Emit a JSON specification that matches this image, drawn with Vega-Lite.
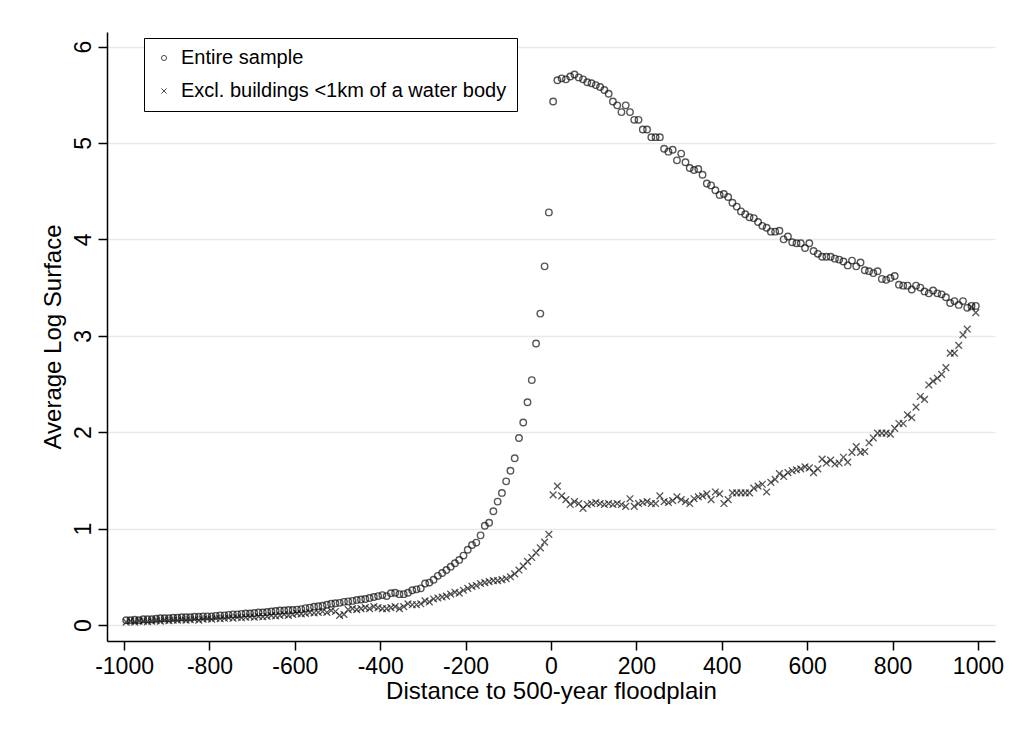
{
  "$schema": "https://vega.github.io/schema/vega-lite/v6.json",
  "width": 888,
  "height": 609,
  "autosize": "none",
  "padding": {"left": 107, "top": 32, "right": 18, "bottom": 95},
  "background": "white",
  "config": {
    "font": "Liberation Sans",
    "view": {"stroke": null},
    "axis": {
      "domainColor": "black",
      "domainWidth": 1.5,
      "tickColor": "black",
      "tickWidth": 1.5,
      "tickSize": 9,
      "labelColor": "black",
      "titleColor": "black",
      "labelFont": "Liberation Sans",
      "titleFont": "Liberation Sans",
      "labelFontSize": 23,
      "titleFontSize": 24,
      "titleFontWeight": "normal",
      "gridColor": "#e4ebee",
      "gridWidth": 1.5
    }
  },
  "datasets": {
    "a": [
      {"x":-995,"y":0.05},{"x":-985,"y":0.05},{"x":-975,"y":0.055},{"x":-965,"y":0.05},{"x":-955,"y":0.06},{"x":-945,"y":0.06},{"x":-935,"y":0.06},{"x":-925,"y":0.065},{"x":-915,"y":0.07},{"x":-905,"y":0.07},
      {"x":-895,"y":0.07},{"x":-885,"y":0.075},{"x":-875,"y":0.075},{"x":-865,"y":0.08},{"x":-855,"y":0.08},{"x":-845,"y":0.08},{"x":-835,"y":0.085},{"x":-825,"y":0.085},{"x":-815,"y":0.09},{"x":-805,"y":0.09},
      {"x":-795,"y":0.09},{"x":-785,"y":0.095},{"x":-775,"y":0.1},{"x":-765,"y":0.1},{"x":-755,"y":0.105},{"x":-745,"y":0.11},{"x":-735,"y":0.11},{"x":-725,"y":0.115},{"x":-715,"y":0.12},{"x":-705,"y":0.12},
      {"x":-695,"y":0.125},{"x":-685,"y":0.13},{"x":-675,"y":0.13},{"x":-665,"y":0.135},{"x":-655,"y":0.14},{"x":-645,"y":0.145},{"x":-635,"y":0.15},{"x":-625,"y":0.15},{"x":-615,"y":0.155},{"x":-605,"y":0.155},
      {"x":-595,"y":0.16},{"x":-585,"y":0.165},{"x":-575,"y":0.175},{"x":-565,"y":0.18},{"x":-555,"y":0.19},{"x":-545,"y":0.195},{"x":-535,"y":0.2},{"x":-525,"y":0.21},{"x":-515,"y":0.22},{"x":-505,"y":0.225},
      {"x":-495,"y":0.23},{"x":-485,"y":0.24},{"x":-475,"y":0.245},{"x":-465,"y":0.25},{"x":-455,"y":0.26},{"x":-445,"y":0.265},{"x":-435,"y":0.27},{"x":-425,"y":0.28},{"x":-415,"y":0.29},{"x":-405,"y":0.3},
      {"x":-395,"y":0.31},{"x":-385,"y":0.3},{"x":-375,"y":0.33},{"x":-365,"y":0.335},{"x":-355,"y":0.32},{"x":-345,"y":0.32},{"x":-335,"y":0.335},{"x":-325,"y":0.36},{"x":-315,"y":0.37},{"x":-305,"y":0.38},
      {"x":-295,"y":0.43},{"x":-285,"y":0.44},{"x":-275,"y":0.47},{"x":-265,"y":0.51},{"x":-255,"y":0.54},{"x":-245,"y":0.57},{"x":-235,"y":0.605},{"x":-225,"y":0.64},{"x":-215,"y":0.675},{"x":-205,"y":0.72},
      {"x":-195,"y":0.78},{"x":-185,"y":0.83},{"x":-175,"y":0.855},{"x":-165,"y":0.93},{"x":-155,"y":1.03},{"x":-145,"y":1.06},{"x":-135,"y":1.18},{"x":-125,"y":1.28},{"x":-115,"y":1.37},{"x":-105,"y":1.49},
      {"x":-95,"y":1.6},{"x":-85,"y":1.73},{"x":-75,"y":1.94},{"x":-65,"y":2.1},{"x":-55,"y":2.31},{"x":-45,"y":2.54},{"x":-35,"y":2.92},{"x":-25,"y":3.23},{"x":-15,"y":3.72},{"x":-5,"y":4.28},
      {"x":5,"y":5.43},{"x":15,"y":5.65},{"x":25,"y":5.67},{"x":35,"y":5.66},{"x":45,"y":5.69},{"x":55,"y":5.71},{"x":65,"y":5.68},{"x":75,"y":5.66},{"x":85,"y":5.63},{"x":95,"y":5.62},
      {"x":105,"y":5.6},{"x":115,"y":5.58},{"x":125,"y":5.55},{"x":135,"y":5.51},{"x":145,"y":5.43},{"x":155,"y":5.39},{"x":165,"y":5.32},{"x":175,"y":5.39},{"x":185,"y":5.32},{"x":195,"y":5.24},
      {"x":205,"y":5.24},{"x":215,"y":5.14},{"x":225,"y":5.14},{"x":235,"y":5.06},{"x":245,"y":5.06},{"x":255,"y":5.06},{"x":265,"y":4.94},{"x":275,"y":4.91},{"x":285,"y":4.93},{"x":295,"y":4.82},
      {"x":305,"y":4.89},{"x":315,"y":4.8},{"x":325,"y":4.74},{"x":335,"y":4.72},{"x":345,"y":4.73},{"x":355,"y":4.67},{"x":365,"y":4.58},{"x":375,"y":4.56},{"x":385,"y":4.51},{"x":395,"y":4.46},
      {"x":405,"y":4.47},{"x":415,"y":4.44},{"x":425,"y":4.38},{"x":435,"y":4.34},{"x":445,"y":4.29},{"x":455,"y":4.26},{"x":465,"y":4.23},{"x":475,"y":4.22},{"x":485,"y":4.18},{"x":495,"y":4.14},
      {"x":505,"y":4.12},{"x":515,"y":4.08},{"x":525,"y":4.08},{"x":535,"y":4.09},{"x":545,"y":4.0},{"x":555,"y":4.03},{"x":565,"y":3.97},{"x":575,"y":3.96},{"x":585,"y":3.96},{"x":595,"y":3.91},
      {"x":605,"y":3.96},{"x":615,"y":3.88},{"x":625,"y":3.85},{"x":635,"y":3.82},{"x":645,"y":3.82},{"x":655,"y":3.82},{"x":665,"y":3.8},{"x":675,"y":3.79},{"x":685,"y":3.77},{"x":695,"y":3.73},
      {"x":705,"y":3.78},{"x":715,"y":3.72},{"x":725,"y":3.76},{"x":735,"y":3.68},{"x":745,"y":3.67},{"x":755,"y":3.65},{"x":765,"y":3.67},{"x":775,"y":3.59},{"x":785,"y":3.58},{"x":795,"y":3.6},
      {"x":805,"y":3.62},{"x":815,"y":3.53},{"x":825,"y":3.52},{"x":835,"y":3.52},{"x":845,"y":3.48},{"x":855,"y":3.52},{"x":865,"y":3.5},{"x":875,"y":3.46},{"x":885,"y":3.44},{"x":895,"y":3.47},
      {"x":905,"y":3.44},{"x":915,"y":3.43},{"x":925,"y":3.4},{"x":935,"y":3.34},{"x":945,"y":3.36},{"x":955,"y":3.32},{"x":965,"y":3.36},{"x":975,"y":3.29},{"x":985,"y":3.31},{"x":995,"y":3.31}
    ],
    "b": [
      {"x":-995,"y":0.03},{"x":-985,"y":0.04},{"x":-975,"y":0.03},{"x":-965,"y":0.04},{"x":-955,"y":0.04},{"x":-945,"y":0.035},{"x":-935,"y":0.04},{"x":-925,"y":0.045},{"x":-915,"y":0.04},{"x":-905,"y":0.05},
      {"x":-895,"y":0.045},{"x":-885,"y":0.05},{"x":-875,"y":0.05},{"x":-865,"y":0.055},{"x":-855,"y":0.05},{"x":-845,"y":0.055},{"x":-835,"y":0.06},{"x":-825,"y":0.05},{"x":-815,"y":0.06},{"x":-805,"y":0.065},
      {"x":-795,"y":0.06},{"x":-785,"y":0.07},{"x":-775,"y":0.065},{"x":-765,"y":0.07},{"x":-755,"y":0.075},{"x":-745,"y":0.07},{"x":-735,"y":0.08},{"x":-725,"y":0.075},{"x":-715,"y":0.08},{"x":-705,"y":0.085},
      {"x":-695,"y":0.08},{"x":-685,"y":0.09},{"x":-675,"y":0.085},{"x":-665,"y":0.09},{"x":-655,"y":0.1},{"x":-645,"y":0.095},{"x":-635,"y":0.1},{"x":-625,"y":0.11},{"x":-615,"y":0.1},{"x":-605,"y":0.11},
      {"x":-595,"y":0.12},{"x":-585,"y":0.115},{"x":-575,"y":0.12},{"x":-565,"y":0.13},{"x":-555,"y":0.125},{"x":-545,"y":0.13},{"x":-535,"y":0.14},{"x":-525,"y":0.13},{"x":-515,"y":0.15},{"x":-505,"y":0.14},
      {"x":-495,"y":0.1},{"x":-485,"y":0.11},{"x":-475,"y":0.16},{"x":-465,"y":0.17},{"x":-455,"y":0.16},{"x":-445,"y":0.17},{"x":-435,"y":0.18},{"x":-425,"y":0.17},{"x":-415,"y":0.19},{"x":-405,"y":0.18},
      {"x":-395,"y":0.17},{"x":-385,"y":0.17},{"x":-375,"y":0.18},{"x":-365,"y":0.19},{"x":-355,"y":0.17},{"x":-345,"y":0.19},{"x":-335,"y":0.22},{"x":-325,"y":0.21},{"x":-315,"y":0.21},{"x":-305,"y":0.22},
      {"x":-295,"y":0.25},{"x":-285,"y":0.24},{"x":-275,"y":0.27},{"x":-265,"y":0.28},{"x":-255,"y":0.29},{"x":-245,"y":0.3},{"x":-235,"y":0.32},{"x":-225,"y":0.34},{"x":-215,"y":0.33},{"x":-205,"y":0.36},
      {"x":-195,"y":0.38},{"x":-185,"y":0.4},{"x":-175,"y":0.41},{"x":-165,"y":0.43},{"x":-155,"y":0.44},{"x":-145,"y":0.45},{"x":-135,"y":0.46},{"x":-125,"y":0.46},{"x":-115,"y":0.47},{"x":-105,"y":0.48},
      {"x":-95,"y":0.5},{"x":-85,"y":0.53},{"x":-75,"y":0.57},{"x":-65,"y":0.61},{"x":-55,"y":0.66},{"x":-45,"y":0.7},{"x":-35,"y":0.75},{"x":-25,"y":0.8},{"x":-15,"y":0.86},{"x":-5,"y":0.94},
      {"x":5,"y":1.35},{"x":15,"y":1.44},{"x":25,"y":1.34},{"x":35,"y":1.3},{"x":45,"y":1.25},{"x":55,"y":1.28},{"x":65,"y":1.26},{"x":75,"y":1.21},{"x":85,"y":1.25},{"x":95,"y":1.26},
      {"x":105,"y":1.27},{"x":115,"y":1.26},{"x":125,"y":1.25},{"x":135,"y":1.26},{"x":145,"y":1.25},{"x":155,"y":1.26},{"x":165,"y":1.25},{"x":175,"y":1.23},{"x":185,"y":1.31},{"x":195,"y":1.23},
      {"x":205,"y":1.26},{"x":215,"y":1.27},{"x":225,"y":1.28},{"x":235,"y":1.26},{"x":245,"y":1.26},{"x":255,"y":1.34},{"x":265,"y":1.28},{"x":275,"y":1.27},{"x":285,"y":1.29},{"x":295,"y":1.33},
      {"x":305,"y":1.3},{"x":315,"y":1.28},{"x":325,"y":1.26},{"x":335,"y":1.31},{"x":345,"y":1.33},{"x":355,"y":1.34},{"x":365,"y":1.36},{"x":375,"y":1.3},{"x":385,"y":1.38},{"x":395,"y":1.36},
      {"x":405,"y":1.26},{"x":415,"y":1.3},{"x":425,"y":1.37},{"x":435,"y":1.37},{"x":445,"y":1.37},{"x":455,"y":1.37},{"x":465,"y":1.37},{"x":475,"y":1.42},{"x":485,"y":1.44},{"x":495,"y":1.46},
      {"x":505,"y":1.38},{"x":515,"y":1.48},{"x":525,"y":1.51},{"x":535,"y":1.57},{"x":545,"y":1.54},{"x":555,"y":1.58},{"x":565,"y":1.6},{"x":575,"y":1.61},{"x":585,"y":1.62},{"x":595,"y":1.64},
      {"x":605,"y":1.63},{"x":615,"y":1.58},{"x":625,"y":1.62},{"x":635,"y":1.72},{"x":645,"y":1.68},{"x":655,"y":1.71},{"x":665,"y":1.67},{"x":675,"y":1.68},{"x":685,"y":1.74},{"x":695,"y":1.69},
      {"x":705,"y":1.79},{"x":715,"y":1.85},{"x":725,"y":1.79},{"x":735,"y":1.8},{"x":745,"y":1.89},{"x":755,"y":1.94},{"x":765,"y":1.99},{"x":775,"y":1.99},{"x":785,"y":1.99},{"x":795,"y":1.98},
      {"x":805,"y":2.04},{"x":815,"y":2.09},{"x":825,"y":2.09},{"x":835,"y":2.18},{"x":845,"y":2.15},{"x":855,"y":2.26},{"x":865,"y":2.37},{"x":875,"y":2.34},{"x":885,"y":2.49},{"x":895,"y":2.53},
      {"x":905,"y":2.56},{"x":915,"y":2.6},{"x":925,"y":2.67},{"x":935,"y":2.82},{"x":945,"y":2.82},{"x":955,"y":2.9},{"x":965,"y":3.01},{"x":975,"y":3.07},{"x":985,"y":3.3},{"x":995,"y":3.24}
    ]
  },
  "encoding": {
    "x": {
      "field": "x",
      "type": "quantitative",
      "scale": {"domain": [-1040, 1040], "nice": false, "zero": false},
      "axis": {
        "title": "Distance to 500-year floodplain",
        "values": [-1000, -800, -600, -400, -200, 0, 200, 400, 600, 800, 1000],
        "labelExpr": "'' + datum.value",
        "grid": false,
        "labelPadding": 5,
        "titlePadding": 1,
        "labelFlush": false
      }
    },
    "y": {
      "field": "y",
      "type": "quantitative",
      "scale": {"domain": [-0.166, 6.151], "nice": false, "zero": false},
      "axis": {
        "title": "Average Log Surface",
        "values": [0, 1, 2, 3, 4, 5, 6],
        "grid": true,
        "labelAngle": -90,
        "labelAlign": "center",
        "labelBaseline": "bottom",
        "labelPadding": 3,
        "titlePadding": 7,
        "labelFlush": false
      }
    }
  },
  "layer": [
    {
      "mark": {"type": "rule", "color": "#cf2a4f", "strokeWidth": 2},
      "encoding": {"x": {"datum": 0}}
    },
    {
      "data": {"name": "a"},
      "mark": {"type": "point", "filled": false, "color": "#111111", "strokeWidth": 1.4, "size": 42},
      "encoding": {
        "shape": {
          "datum": "Entire sample",
          "scale": {
            "domain": ["Entire sample", "Excl. buildings <1km of a water body"],
            "range": ["circle", "M-1,-1L1,1M-1,1L1,-1"]
          },
          "legend": {
            "title": null,
            "orient": "none",
            "legendX": 37,
            "legendY": 6,
            "strokeColor": "black",
            "fillColor": "white",
            "padding": 10,
            "rowPadding": 13,
            "labelFontSize": 20,
            "labelFont": "Liberation Sans",
            "labelColor": "black",
            "labelOffset": 7,
            "labelLimit": 500,
            "symbolSize": 26,
            "symbolStrokeColor": "black",
            "symbolStrokeWidth": 1,
            "encode": {"legend": {"update": {"strokeWidth": {"value": 1.5}}}}
          }
        }
      }
    },
    {
      "data": {"name": "b"},
      "mark": {"type": "point", "filled": false, "color": "#111111", "strokeWidth": 1.3, "size": 45},
      "encoding": {
        "shape": {"datum": "Excl. buildings <1km of a water body"}
      }
    }
  ]
}
